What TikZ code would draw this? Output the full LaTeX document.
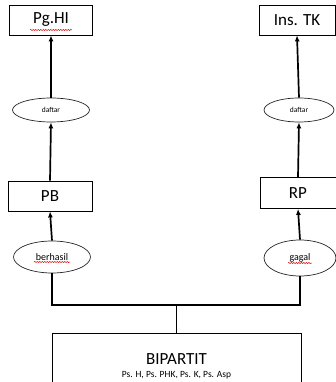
\documentclass[tikz,border=0pt]{standalone}
\usepackage{fontspec}
\setmainfont{Carlito}
\usepackage{tikz}
\usetikzlibrary{shapes.geometric}
\usetikzlibrary{arrows.meta}
\usetikzlibrary{decorations.pathmorphing}

\tikzset{
  box/.style={rectangle, draw=black, line width=0.8pt, fill=white, font=\fontsize{17}{19}\selectfont},
  oval/.style={ellipse, draw=black!85, line width=0.7pt, fill=white, inner sep=0pt},
  flow/.style={line width=1.7pt, -{Latex[length=6pt,width=5pt]}},
  joinline/.style={line width=1.7pt},
  squiggle/.style={red!85!black, line width=0.5pt, decorate, decoration={snake, amplitude=0.6pt, segment length=2.5pt}}
}

\begin{document}
\begin{tikzpicture}[x=1pt, y=-1pt]

\useasboundingbox (0,0) rectangle (336,382);
\clip (0,0) rectangle (336,382);

% left column
\node at (51,20) [box, minimum width=83pt, minimum height=30pt] (pghi) {Pg.HI};
\node at (51,110) [oval, minimum width=77pt, minimum height=24pt, font=\fontsize{7.5}{8}\selectfont] (daftarl) {daftar};
\node at (50,196) [box, minimum width=84pt, minimum height=30pt] (pb) {PB};
\node at (52,257) [oval, minimum width=77pt, minimum height=32pt, font=\fontsize{10}{11}\selectfont] (berhasil) {berhasil};

% right column
\node at (297,20) [box, minimum width=76pt, minimum height=30pt] (instk) {Ins. TK};
\node at (299,110) [oval, minimum width=70pt, minimum height=24pt, font=\fontsize{7.5}{8}\selectfont] (daftarr) {daftar};
\node at (298,193) [box, minimum width=76pt, minimum height=31pt] (rp) {RP};
\node at (300,258) [oval, minimum width=72pt, minimum height=36pt, font=\fontsize{10}{11}\selectfont] (gagal) {gagal};

% bottom
\node at (176.5,333) [box, anchor=north, minimum width=249pt, minimum height=60pt] (bipartit) {};
\node at (176.5,366) [align=center, inner sep=0pt] (bipartitt) {{\fontsize{17}{19}\selectfont BIPARTIT}\\[1pt] {\fontsize{9.5}{10}\selectfont Ps. H, Ps. PHK, Ps. K, Ps. Asp}};

\coordinate (jl) at (berhasil.south |- 0,305);
\coordinate (jr) at (gagal.south |- 0,305);
\coordinate (jm) at (bipartit.north |- jl);

\draw [flow] (berhasil.north) -- (pb.south);
\draw [flow] (pb.north) -- (daftarl.south);
\draw [flow] (daftarl.north) -- (pghi.south);
\draw [flow] (gagal.north) -- (rp.south);
\draw [flow] (rp.north) -- (daftarr.south);
\draw [flow] (daftarr.north) -- (instk.south);

\draw [joinline] (berhasil.south) -- (jl) -- (jr) -- (gagal.south);
\draw [joinline] (bipartit.north) -- (jm);

% spell-check marks
\draw [squiggle] ([xshift=-21pt, yshift=-10pt]pghi.center) -- ([xshift=21pt, yshift=-10pt]pghi.center);
\draw [squiggle] ([xshift=-18pt, yshift=-5pt]berhasil.center) -- ([xshift=18pt, yshift=-5pt]berhasil.center);
\draw [squiggle] ([xshift=-12pt, yshift=-5pt]gagal.center) -- ([xshift=12pt, yshift=-5pt]gagal.center);

\end{tikzpicture}
\end{document}
